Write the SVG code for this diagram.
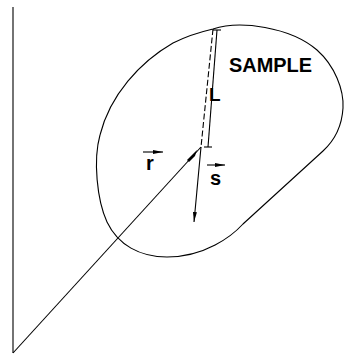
<svg xmlns="http://www.w3.org/2000/svg" width="361" height="355" viewBox="0 0 361 355">
<style>
.ln{fill:none;stroke:#000;stroke-width:1.1}
.t{font-family:"Liberation Sans",Arial,sans-serif;fill:#000;font-weight:bold}
</style>
<defs>
<marker id="ah" viewBox="0 0 10 4" refX="10" refY="2" markerWidth="10" markerHeight="4" markerUnits="userSpaceOnUse" orient="auto">
<path d="M0,0 L10,2 L0,4 Z" fill="#000"/>
</marker>
</defs>
<rect width="361" height="355" fill="#fff"/>
<g id="sample">
<path class="ln" d="M213,29 C240,20 290,27 317,50 C335,66 344,90 343,108 C342,125 335,140 323,151 L243,224 C232,236 205,257 167,257 C140,257 118,245 107,222 C97,200 93,160 100,135 C110,95 140,62 173,43 C185,37 200,32 213,29 Z"/>
<text class="t" x="229" y="72" font-size="20" textLength="83" lengthAdjust="spacingAndGlyphs">SAMPLE</text>
</g>
<g id="lab">
<line class="ln" x1="13" y1="7" x2="13" y2="353"/>
</g>
<g id="connectors">
<line class="ln" x1="13" y1="353" x2="201" y2="147"/>
<path d="M187,160 L197,150 L195,156 L189,162 Z" fill="#000"/>
<line class="ln" x1="213" y1="29" x2="201" y2="147" stroke-dasharray="6,2.5"/>
<line class="ln" x1="217" y1="30" x2="208" y2="147"/>
<line class="ln" x1="213" y1="30" x2="221" y2="30"/>
<line class="ln" x1="204" y1="147" x2="212" y2="147"/>
<line class="ln" x1="201" y1="147" x2="194" y2="222" marker-end="url(#ah)"/>
</g>
<g id="r-label">
<text class="t" x="146" y="170" font-size="20">r</text>
<line class="ln" x1="143" y1="152" x2="163" y2="152" marker-end="url(#ah)"/>
</g>
<g id="s-label">
<text class="t" x="210" y="185" font-size="20">s</text>
<line class="ln" x1="207" y1="165" x2="225" y2="165" marker-end="url(#ah)"/>
</g>
<g id="L-label">
<text class="t" x="209" y="101" font-size="19">L</text>
</g>
</svg>
